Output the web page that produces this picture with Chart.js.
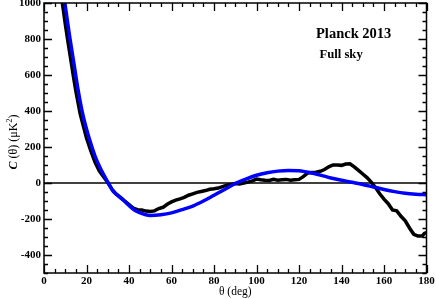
<!DOCTYPE html>
<html>
<head>
<meta charset="UTF-8">
<title>Planck 2013 C(theta)</title>
<script src="https://cdn.jsdelivr.net/npm/chart.js@4"></script>
<style>
body { margin: 0; background: #fff; }
canvas { display: block; }
</style>
</head>
<body>
<canvas id="ctheta" width="436" height="299"></canvas>
<script>
// measured correlation function (black, noisy)
const thetaData = [8, 9, 10, 11, 12, 13, 14, 15, 16, 17, 18, 20, 22, 24, 26, 28, 30, 32, 34, 36, 38, 40, 42, 44, 46, 48, 50,
  52, 54, 56, 58, 60, 62, 64, 66, 68, 70, 72, 74, 76, 78, 80, 82, 84, 86, 88, 90, 92, 94, 96, 98, 100,
  102, 104, 106, 108, 110, 112, 114, 116, 118, 120, 122, 124, 126, 128, 130, 132, 134, 136, 138, 140,
  142, 144, 146, 148, 150, 152, 154, 156, 158, 160, 162, 164, 166, 168, 170, 172, 174, 176, 178, 179, 180];
const cData = [1050, 970, 885, 805, 730, 655, 580, 510, 448, 385, 340, 250, 180, 117, 68, 35, 3, -35, -62, -80, -100, -120, -140, -148, -150, -156, -158,
  -155, -142, -135, -118, -105, -95, -88, -80, -68, -60, -52, -47, -42, -35, -32, -28, -20, -12, -8, -3, -5, 0, 5, 12, 22,
  18, 15, 14, 20, 15, 18, 20, 15, 18, 20, 35, 55, 58, 60, 65, 75, 90, 100, 100, 98,
  105, 107, 90, 70, 50, 30, 5, -25, -60, -90, -115, -150, -155, -185, -210, -250, -285, -295, -295, -280, -275];

// best-fit model (blue, smooth)
const thetaModel = [9, 10, 12, 14, 16, 18, 20, 22, 24, 26, 28, 30, 32.5, 35, 37.5, 40, 42.5, 45, 47.5, 50, 55, 60, 65, 70, 75, 80,
  85, 90, 95, 100, 105, 110, 115, 120, 125, 130, 135, 140, 145, 150, 155, 160, 165, 170, 175, 180];
const cModel = [1070, 985, 820, 670, 520, 395, 300, 220, 150, 95, 48, 5, -45, -72, -97, -125, -150, -165, -175, -180, -176, -166, -148, -128, -100, -68,
  -36, -3, 22, 43, 57, 66, 70, 68, 58, 44, 28, 15, 4, -8, -22, -36, -48, -57, -62, -65];

const xTicks = [0, 20, 40, 60, 80, 100, 120, 140, 160, 180];
const yTicks = [-400, -200, 0, 200, 400, 600, 800, 1000];
const xRange = [0, 180];
const yRange = [-500, 1000];
const xMinorStep = 5;
const yMinorStep = 50;

const serif = '"Liberation Serif", "DejaVu Serif", serif';

const toPoints = (xs, ys) => xs.map((x, i) => ({ x: x, y: ys[i] }));

const framePlugin = {
  id: 'frame',
  afterDatasetsDraw(chart) {
    const { ctx, chartArea: a } = chart;
    const xs = chart.scales.x, ys = chart.scales.y;
    ctx.save();
    ctx.strokeStyle = '#000';
    ctx.lineWidth = 1.5;
    ctx.strokeRect(a.left, a.top, a.right - a.left, a.bottom - a.top);

    ctx.lineWidth = 1.3;
    ctx.beginPath();
    for (let v = xs.min; v <= xs.max; v += xMinorStep) {
      const px = Math.round(xs.getPixelForValue(v)) + 0.5;
      const len = xTicks.includes(v) ? 8 : 4;
      ctx.moveTo(px, a.bottom); ctx.lineTo(px, a.bottom - len);
      ctx.moveTo(px, a.top); ctx.lineTo(px, a.top + len);
    }
    for (let v = ys.min; v <= ys.max; v += yMinorStep) {
      const py = Math.round(ys.getPixelForValue(v)) + 0.5;
      const len = (yTicks.includes(v)) ? 8 : 4;
      ctx.moveTo(a.left, py); ctx.lineTo(a.left + len, py);
      ctx.moveTo(a.right, py); ctx.lineTo(a.right - len, py);
    }
    ctx.stroke();

    // annotation
    ctx.fillStyle = '#000';
    ctx.textBaseline = 'alphabetic';
    ctx.textAlign = 'left';
    ctx.font = 'bold 14.5px ' + serif;
    ctx.fillText('Planck 2013', xs.getPixelForValue(128), ys.getPixelForValue(807));
    ctx.font = 'bold 12.7px ' + serif;
    ctx.fillText('Full sky', xs.getPixelForValue(129.6), ys.getPixelForValue(697));

    // y axis title: C (θ) (μK²)
    const parts = [
      { t: 'C', f: 'italic bold 12px ' + serif, dy: 0 },
      { t: ' (θ) (μK', f: '12px ' + serif, dy: 0 },
      { t: '2', f: '8px ' + serif, dy: -5 },
      { t: ')', f: '12px ' + serif, dy: 0 }
    ];
    let total = 0;
    parts.forEach(p => { ctx.font = p.f; p.w = ctx.measureText(p.t).width; total += p.w; });
    ctx.translate(17, (a.top + a.bottom) / 2 + 4);
    ctx.rotate(-Math.PI / 2);
    let cx = -total / 2;
    parts.forEach(p => { ctx.font = p.f; ctx.fillText(p.t, cx, p.dy); cx += p.w; });
    ctx.restore();
  }
};

new Chart(document.getElementById('ctheta'), {
  type: 'line',
  data: {
    datasets: [
      { label: 'model', data: toPoints(thetaModel, cModel), borderColor: '#0000ff', borderWidth: 3.5,
        pointRadius: 0, cubicInterpolationMode: 'monotone', fill: false },
      { label: 'Planck 2013', data: toPoints(thetaData, cData), borderColor: '#000', borderWidth: 3.5,
        pointRadius: 0, tension: 0, fill: false },
      { label: 'zero', data: toPoints(xRange, [0, 0]), borderColor: '#000', borderWidth: 1.3,
        pointRadius: 0, fill: false }
    ]
  },
  options: {
    responsive: false,
    animation: false,
    layout: { padding: { left: 0, top: 3, right: 9.5, bottom: 0 } },
    plugins: { legend: { display: false }, tooltip: { enabled: false } },
    scales: {
      x: {
        type: 'linear', min: xRange[0], max: xRange[1],
        grid: { display: false, drawTicks: false },
        border: { display: false },
        afterBuildTicks: s => { s.ticks = xTicks.map(v => ({ value: v })); },
        afterFit: s => { s.height = 26; s.paddingLeft = 0; s.paddingRight = 0; },
        ticks: { color: '#000', padding: 2, maxRotation: 0, autoSkip: false,
          callback: v => String(v),
          font: { family: serif, size: 11, weight: 'bold' } },
        title: { display: true, text: 'θ (deg)', color: '#000', padding: { top: 0, bottom: 0 },
          font: { family: serif, size: 11.5 } }
      },
      y: {
        type: 'linear', min: yRange[0], max: yRange[1],
        grid: { display: false, drawTicks: false },
        border: { display: false },
        afterBuildTicks: s => { s.ticks = yTicks.map(v => ({ value: v })); },
        afterFit: s => { s.width = 44; s.paddingTop = 0; s.paddingBottom = 0; },
        ticks: { color: '#000', padding: 3, autoSkip: false,
          callback: v => String(v),
          font: { family: serif, size: 11, weight: 'bold' } }
      }
    }
  },
  plugins: [framePlugin]
});
</script>
</body>
</html>
